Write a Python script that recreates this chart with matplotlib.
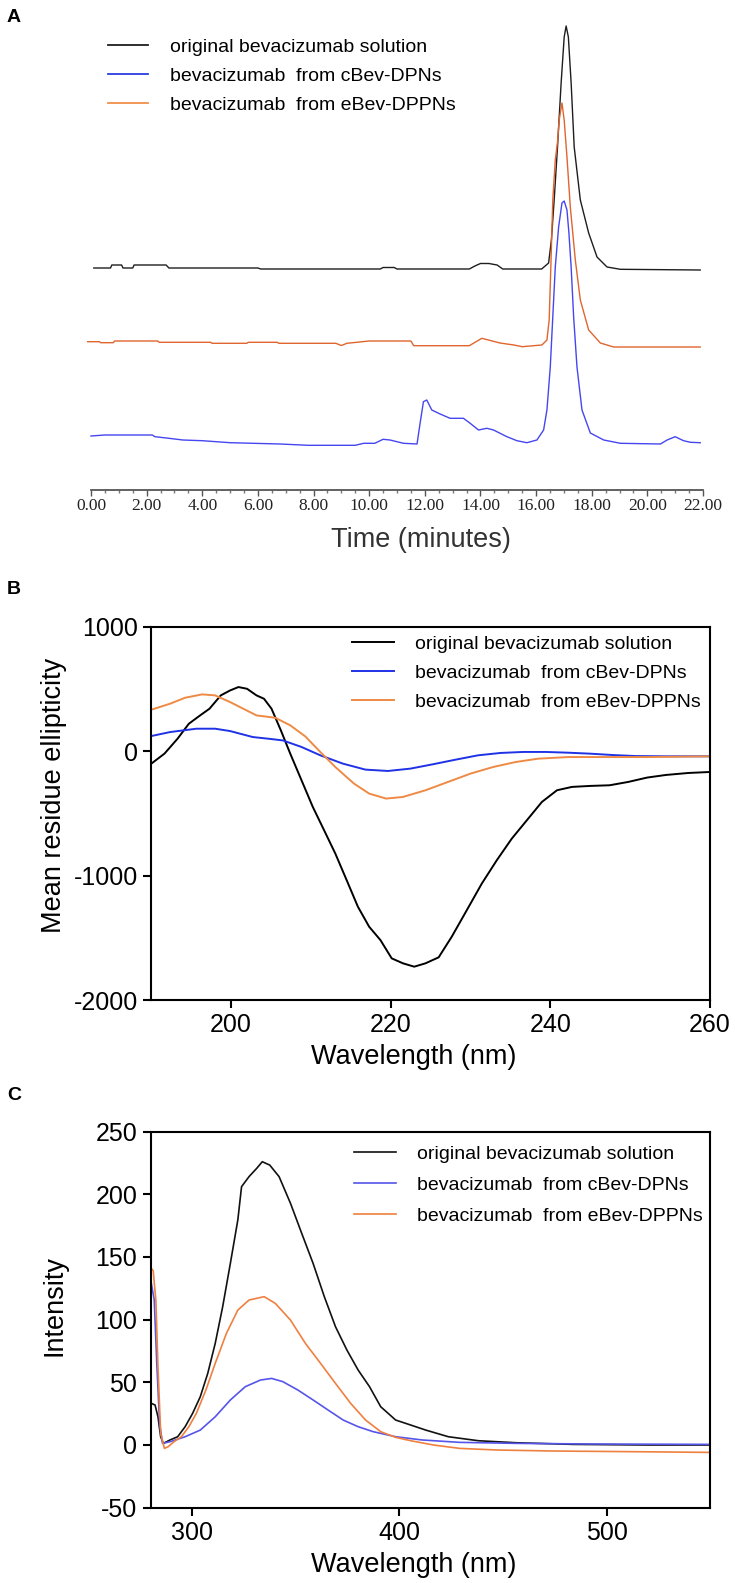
import matplotlib
matplotlib.use("Agg")
import matplotlib.pyplot as plt

plt.rcParams['font.family'] = ['Liberation Sans', 'DejaVu Sans']
plt.rcParams['axes.unicode_minus'] = False

# ---------------- data ----------------
series_labels = ["original bevacizumab solution",
                 "bevacizumab  from cBev-DPNs",
                 "bevacizumab  from eBev-DPPNs"]

# Panel A: HPLC chromatograms (stacked traces, arbitrary units)
a_time_black = [0.1, 0.7, 0.75, 1.1, 1.15, 1.5, 1.55, 2.7, 2.8, 6.0, 6.1, 10.4, 10.5, 10.9, 11.0,
                13.6, 13.8, 14.0, 14.3, 14.6, 14.8, 16.2, 16.45, 16.55, 16.65, 16.77, 16.9, 17.01,
                17.08, 17.16, 17.26, 17.37, 17.59, 17.89, 18.19, 18.55, 19.03, 21.9]
a_black = [222, 222, 225, 225, 222, 222, 225, 225, 222, 222, 221, 221, 222.5, 222.5, 221,
           221, 224, 226.5, 226.5, 225, 221, 221, 227, 250, 290, 343, 407, 453,
           464, 453, 407, 343, 290, 257, 233, 223, 220.7, 220]

a_time_orange = [-0.12, 0.3, 0.35, 0.8, 0.85, 2.4, 2.45, 4.3, 4.35, 5.6, 5.65, 6.7, 6.75, 8.8, 9.0,
                 9.2, 10.0, 11.5, 11.6, 13.6, 14.05, 14.7, 15.2, 15.5, 16.21, 16.39, 16.47, 16.53,
                 16.6, 16.69, 16.77, 16.83, 16.93, 17.01, 17.11, 17.23, 17.41, 17.59, 17.89,
                 18.31, 18.79, 21.9]
a_orange = [148.3, 148.3, 147.3, 147.3, 149, 149, 147.7, 147.7, 146.7, 146.7, 147.7, 147.7, 146.7,
            146.7, 144.5, 146.7, 149, 149, 144.3, 144.3, 151.7, 147, 145, 143.3, 145, 150, 170,
            223, 290, 330, 348, 370, 387, 370, 333, 283, 230, 190, 160, 147, 143, 143]

a_time_blue = [0.0, 0.5, 2.2, 2.3, 2.8, 3.3, 4.0, 5.0, 6.8, 7.8, 9.5, 9.8, 10.2, 10.5, 10.75,
               11.23, 11.72, 11.83, 11.95, 12.07, 12.25, 12.55, 12.91, 13.39, 13.63, 13.93, 14.23,
               14.47, 14.95, 15.31, 15.67, 16.03, 16.27, 16.39, 16.51, 16.6, 16.69, 16.81, 16.93,
               17.01, 17.11, 17.18, 17.26, 17.35, 17.47, 17.65, 17.95, 18.43, 19.03, 20.47,
               20.71, 21.0, 21.3, 21.55, 21.9]
a_blue = [54, 55, 55, 53.3, 51.7, 50, 49.3, 47.3, 46, 44.7, 44.7, 46.7, 46.7, 50.7, 50,
          46.7, 46, 66.7, 88.3, 90, 80, 76, 71.7, 71.7, 66.7, 60, 61.7,
          60, 53.3, 49.3, 47.3, 50, 60, 80, 123, 173, 223, 263, 287,
          289, 280, 257, 223, 173, 123, 80, 57, 50, 46.7, 46,
          50, 53.3, 49.3, 47.7, 47.3]

a_xticks = [0, 2, 4, 6, 8, 10, 12, 14, 16, 18, 20, 22]
a_xticklabels = ["0.00", "2.00", "4.00", "6.00", "8.00", "10.00", "12.00", "14.00",
                 "16.00", "18.00", "20.00", "22.00"]

# Panel B: CD spectra
b_wl_black = [190.04, 191.68, 193.33, 194.74, 196.15, 197.33, 198.74, 199.91, 200.95, 202.03,
              203.21, 204.15, 205.09, 206.26, 207.44, 208.85, 210.26, 211.67, 213.08, 214.5,
              215.91, 217.32, 218.73, 220.14, 221.55, 222.96, 224.37, 226.02, 227.66, 229.55,
              231.43, 233.31, 235.19, 237.07, 238.95, 240.84, 242.72, 245.07, 247.42, 249.77,
              252.13, 254.48, 257.3, 260.0]
b_black = [-99, -19, 102, 222, 289, 343, 450, 490, 517, 503,
           450, 423, 343, 169, -19, -233, -447, -634, -822, -1036,
           -1250, -1411, -1518, -1665, -1705, -1732, -1705, -1657, -1491, -1277,
           -1063, -875, -701, -554, -407, -313, -286, -278, -273, -246,
           -211, -190, -174, -166]

b_wl_blue = [190.04, 192.39, 195.68, 198.03, 199.91, 202.74, 204.62, 206.5, 208.85, 211.2,
             214.03, 216.85, 219.67, 222.49, 225.31, 228.14, 230.96, 233.78, 236.6, 239.42,
             242.25, 245.07, 247.89, 250.71, 254.48, 260.0]
b_blue = [123, 155, 182, 182, 163, 115, 102, 88, 35, -32,
          -99, -147, -158, -139, -104, -67, -32, -13, -5, -5,
          -11, -19, -30, -38, -40, -40]

b_wl_orange = [190.04, 192.39, 194.27, 196.39, 198.03, 199.91, 201.79, 203.21, 205.56, 207.44,
               209.32, 211.2, 213.08, 215.43, 217.32, 219.44, 221.55, 224.37, 227.2, 230.02,
               232.84, 235.66, 238.48, 242.25, 247.42, 252.13, 260.0]
b_orange = [335, 383, 431, 458, 450, 396, 335, 289, 270, 209,
            120, -5, -126, -260, -340, -380, -367, -313, -246, -179,
            -126, -86, -59, -46, -46, -46, -40]

b_xticks = [200, 220, 240, 260]
b_yticks = [-2000, -1000, 0, 1000]

# Panel C: fluorescence spectra
c_wl_black = [280.4, 282.2, 283.6, 284.9, 286.2, 289.4, 293.1, 296.7, 300.3, 304.0, 307.6, 311.2,
              314.8, 318.5, 322.1, 323.9, 327.5, 331.2, 333.9, 337.5, 342.0, 347.5, 352.9, 358.4,
              363.8, 369.2, 374.7, 380.1, 385.6, 391.0, 398.2, 405.5, 412.7, 423.6, 438.1, 456.3,
              483.5, 519.7, 550.0]
c_black = [33.2, 31.9, 22.5, 6.6, 1.3, 4.0, 6.6, 14.6, 25.2, 38.5, 57.1, 81.0,
           110.3, 144.8, 179.4, 206, 214, 220.6, 225.9, 223.2, 214, 192.7, 168.8, 144.8,
           118.3, 94.3, 75.7, 59.8, 46.5, 30.5, 19.9, 15.9, 11.9, 6.6, 3.4, 1.8,
           0.5, 0, 0]

c_wl_blue = [280.4, 281.8, 283.1, 284.4, 285.8, 289.4, 296.7, 304.0, 311.2, 318.5, 325.7, 333.0,
             338.4, 343.8, 351.1, 358.4, 365.6, 372.9, 380.1, 387.4, 398.2, 411.0, 429.1, 456.3,
             492.5, 550.0]
c_blue = [128.9, 115.6, 62.4, 17.2, 1.3, 2.6, 6.6, 11.9, 22.5, 35.9, 46.5, 51.8,
          53.1, 50.5, 43.8, 35.9, 27.9, 19.9, 14.6, 10.6, 6.6, 4.0, 2.1, 1.3,
          0.8, 0.5]

c_wl_orange = [280.4, 281.3, 282.6, 283.6, 284.9, 286.7, 288.5, 291.3, 294.9, 298.5, 302.1, 306.7,
               311.2, 316.6, 322.1, 327.5, 334.8, 340.2, 347.5, 354.7, 362.0, 369.2, 376.5,
               383.7, 391.0, 398.2, 405.5, 416.4, 429.1, 447.2, 474.4, 510.6, 550.0]
c_orange = [140.8, 139, 115, 62.4, 9.3, -2.7, -1.4, 2.6, 6.6, 14.6, 25.2, 43.8,
            65.1, 89.0, 107.6, 115.6, 118.3, 112.9, 99.6, 81.0, 65.1, 49.1, 33.2,
            19.9, 10.6, 6.1, 3.4, 0, -2.7, -4.0, -4.8, -5.3, -5.9]

c_xticks = [300, 400, 500]
c_yticks = [-50, 0, 50, 100, 150, 200, 250]

# ---------------- figure ----------------
W, H = 735, 1583
fig = plt.figure(figsize=(W / 100, H / 100), dpi=100)


def fx(px):
    return px / W


def fy(py):
    return 1 - py / H


def axes_px(x0, y0, x1, y1):
    return fig.add_axes([fx(x0), fy(y1), fx(x1) - fx(x0), fy(y0) - fy(y1)])


LEG_FS = 14
TICK_FS = 18
LAB_FS = 19.5

# ---- Panel A ----
axA = axes_px(91, 0, 703, 490)
axA.set_xlim(0, 22)
axA.set_ylim(0, 490)
for s in ("left", "right", "top"):
    axA.spines[s].set_visible(False)
axA.spines["bottom"].set_color("#555555")
axA.spines["bottom"].set_linewidth(1.3)
axA.set_yticks([])
axA.set_xticks(a_xticks)
axA.set_xticklabels(a_xticklabels, fontfamily=["Liberation Serif", "DejaVu Serif"],
                    fontsize=12.5, color="#222222")
axA.set_xticks([x / 2 for x in range(0, 45)], minor=True)
axA.tick_params(axis="x", which="major", length=4, width=1, color="#555555", pad=2)
axA.tick_params(axis="x", which="minor", length=2, width=1, color="#777777")
axA.patch.set_alpha(0)

lA_black, = axA.plot(a_time_black, a_black, color="#1e1e1e", lw=1.0, clip_on=False)
lA_blue, = axA.plot(a_time_blue, a_blue, color="#4646f0", lw=1.0, clip_on=False)
lA_orange, = axA.plot(a_time_orange, a_orange, color="#e0652e", lw=1.0, clip_on=False)

legA_handles = [plt.Line2D([], [], color="#1e1e1e", lw=1.3),
                plt.Line2D([], [], color="#2a3ee0", lw=1.3),
                plt.Line2D([], [], color="#f0904a", lw=1.3)]
fig.legend(legA_handles, series_labels, loc="upper left",
           bbox_to_anchor=(fx(108), fy(49 - 11)), frameon=False, fontsize=LEG_FS,
           borderpad=0, borderaxespad=0, handlelength=40 / 19.4, handletextpad=22 / 19.4,
           labelspacing=0.6)

fig.text(fx(421), fy(540), "Time (minutes)", ha="center", va="center",
         fontsize=LAB_FS, color="#333333")


def style_box(ax):
    for s in ax.spines.values():
        s.set_linewidth(1.5)
        s.set_color("black")
    ax.tick_params(axis="both", which="major", length=6, width=1.5, direction="out",
                   labelsize=TICK_FS, pad=3.5, color="black")


# ---- Panel B ----
axB = axes_px(151, 627, 710, 1000)
axB.set_xlim(190, 260)
axB.set_ylim(-2000, 1000)
axB.set_xticks(b_xticks)
axB.set_yticks(b_yticks)
style_box(axB)
lB_black, = axB.plot(b_wl_black, b_black, color="black", lw=1.4)
lB_blue, = axB.plot(b_wl_blue, b_blue, color="#1f32e6", lw=1.4)
lB_orange, = axB.plot(b_wl_orange, b_orange, color="#ef8a45", lw=1.4)
fig.legend([lB_black, lB_blue, lB_orange], series_labels, loc="upper left",
           bbox_to_anchor=(fx(352), fy(646 - 11)), frameon=False, fontsize=LEG_FS,
           borderpad=0, borderaxespad=0, handlelength=42 / 19.4, handletextpad=21 / 19.4,
           labelspacing=0.6)
fig.text(fx(54), fy(795), "Mean residue ellipticity", rotation=90, ha="center", va="center",
         fontsize=LAB_FS)
fig.text(fx(414), fy(1057), "Wavelength (nm)", ha="center", va="center", fontsize=LAB_FS)

# ---- Panel C ----
axC = axes_px(150.5, 1131.5, 710.5, 1507.7)
axC.set_xlim(280, 550)
axC.set_ylim(-50, 250)
axC.set_xticks(c_xticks)
axC.set_yticks(c_yticks)
style_box(axC)
lC_black, = axC.plot(c_wl_black, c_black, color="#111111", lw=1.2)
lC_blue, = axC.plot(c_wl_blue, c_blue, color="#5555ea", lw=1.2)
lC_orange, = axC.plot(c_wl_orange, c_orange, color="#ef8040", lw=1.2)
fig.legend([lC_black, lC_blue, lC_orange], series_labels, loc="upper left",
           bbox_to_anchor=(fx(354), fy(1156 - 11)), frameon=False, fontsize=LEG_FS,
           borderpad=0, borderaxespad=0, handlelength=42 / 19.4, handletextpad=21 / 19.4,
           labelspacing=0.7)
fig.text(fx(54), fy(1305), "Intensity", rotation=90, ha="center", va="center", fontsize=LAB_FS)
fig.text(fx(414), fy(1565), "Wavelength (nm)", ha="center", va="center", fontsize=LAB_FS)

# panel letters
for letter, ypx in (("A", 17), ("B", 589), ("C", 1096)):
    fig.text(fx(14), fy(ypx), letter, ha="center", va="center", fontsize=14, fontweight="bold")

fig.savefig("out.png", dpi=100)
